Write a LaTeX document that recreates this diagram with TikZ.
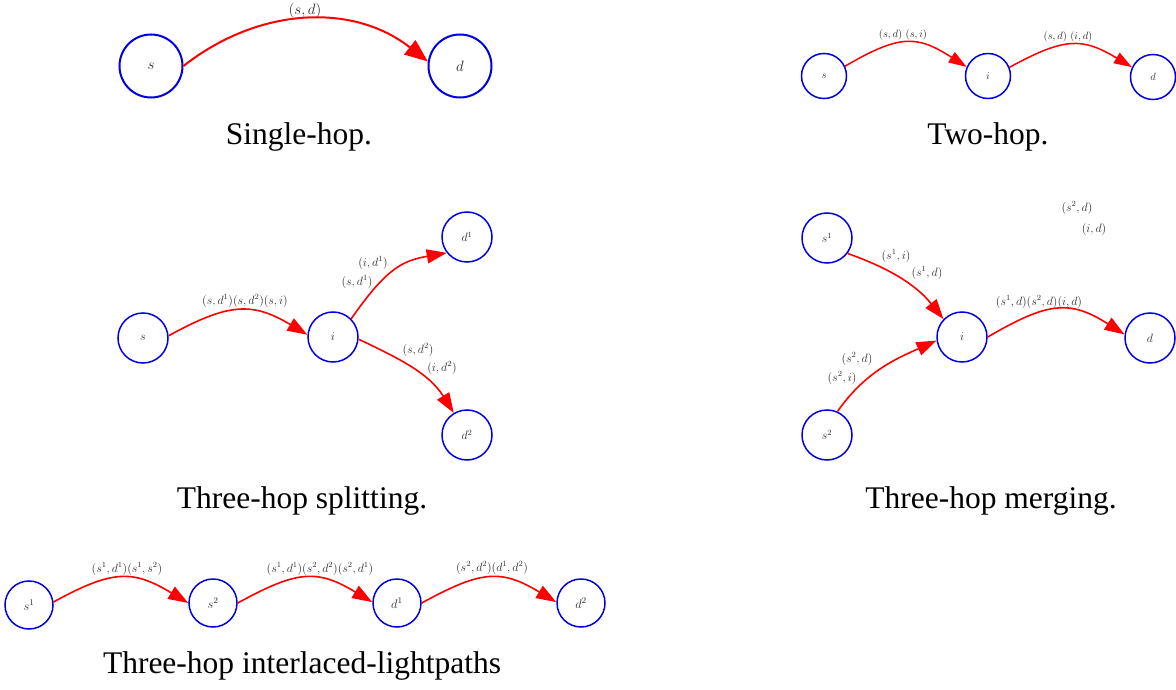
\documentclass[tikz,border=0pt]{standalone}
\usepackage{fix-cm}
\usepackage{fontspec}
\newfontfamily\capfont{Liberation Serif}
\usetikzlibrary{arrows.meta}
\definecolor{ndblue}{RGB}{0,0,225}
\definecolor{labgray}{RGB}{45,45,45}
\begin{document}
\begin{tikzpicture}[x=1pt,y=-1pt,
  nd/.style={circle, draw=ndblue, line width=1.5pt, inner sep=0pt, text=labgray},
  ndA/.style={nd, minimum size=63pt, line width=2pt, font=\fontsize{15}{18}\selectfont},
  ndB/.style={nd, minimum size=45pt, font=\fontsize{10.5}{12}\selectfont},
  ndC/.style={nd, minimum size=50pt, font=\fontsize{12}{14}\selectfont},
  ndD/.style={nd, minimum size=48pt, font=\fontsize{12.5}{14}\selectfont},
  lab/.style={text=labgray, inner sep=0pt},
  labA/.style={lab, font=\fontsize{15}{18}\selectfont},
  labB/.style={lab, font=\fontsize{10.5}{12}\selectfont},
  labC/.style={lab, font=\fontsize{12}{14}\selectfont},
  edgeA/.style={draw=red, line width=2pt, -{Triangle[length=23pt,width=18pt]}},
  edgeB/.style={draw=red, line width=1.5pt, -{Triangle[length=18pt,width=12pt]}},
  edgeC/.style={draw=red, line width=1.6pt, -{Triangle[length=20pt,width=14pt]}},
  captxt/.style={anchor=base, inner sep=0pt, font=\capfont\fontsize{31.5}{36}\selectfont}
]
\useasboundingbox (0,0) rectangle (1176,690);

% ---- Single-hop
\node[ndA] (As) at (151,66) {$s$};
\node[ndA] (Ad) at (460,66) {$d$};
\draw[edgeA] (As.east) .. controls +(75,-59) and +(-75,-59) .. (Ad.172);
\node[labA] (Al) at (305,11) {$(s,d)$};
\node[captxt] (Ac) at (299,145) {Single-hop.};

% ---- Two-hop
\node[ndB] (Bs) at (824,76) {$s$};
\node[ndB] (Bi) at (988,76) {$i$};
\node[ndB] (Bd) at (1153,77) {$d$};
\draw[edgeB] (Bs.25) .. controls +(55,-32) and +(-50,-32) .. (Bi.157);
\draw[edgeB] (Bi.22) .. controls +(55,-30) and +(-50,-30) .. (Bd.155);
\node[labB] (Bl1) at (903,35) {$(s,d)$ $(s,i)$};
\node[labB] (Bl2) at (1068,37) {$(s,d)$ $(i,d)$};
\node[captxt] (Bc) at (988,145) {Two-hop.};

% ---- Three-hop splitting
\node[ndC] (Cs) at (143,338) {$s$};
\node[ndC] (Ci) at (333,337) {$i$};
\node[ndC] (Cd1) at (467,237) {$d^1$};
\node[ndC] (Cd2) at (467,435) {$d^2$};
\draw[edgeC] (Cs.5) .. controls +(60,-33) and +(-55,-33) .. (Ci.175);
\draw[edgeC] (Ci.45) .. controls +(35,-50) and +(-45,8) .. (Cd1.218);
\draw[edgeC] (Ci.355) .. controls +(40,19) and +(-25,-40) .. (Cd2.121);
\node[labC] (Cl1) at (245,301) {$(s,d^1)(s,d^2)(s,i)$};
\node[labC] (Cl2) at (373,263) {$(i,d^1)$};
\node[labC] (Cl3) at (357,282) {$(s,d^1)$};
\node[labC] (Cl4) at (418,350) {$(s,d^2)$};
\node[labC] (Cl5) at (442,368) {$(i,d^2)$};
\node[captxt] (Cc) at (302,508) {Three-hop splitting.};

% ---- Three-hop merging
\node[ndC] (Ds1) at (827,238) {$s^1$};
\node[ndC] (Di) at (962,337) {$i$};
\node[ndC] (Dd) at (1150,338) {$d$};
\node[ndC] (Ds2) at (827,435) {$s^2$};
\draw[edgeC] (Ds1.323) .. controls +(40,14) and +(-28,-35) .. (Di.136);
\draw[edgeC] (Ds2.66) .. controls +(28,-40) and +(-40,18) .. (Di.188);
\draw[edgeC] (Di.east) .. controls +(60,-35) and +(-55,-35) .. (Dd.172);
\node[labC] (Dl1) at (1039,302) {$(s^1,d)(s^2,d)(i,d)$};
\node[labC] (Dl2) at (896,256) {$(s^1,i)$};
\node[labC] (Dl3) at (927,273) {$(s^1,d)$};
\node[labC] (Dl4) at (857,359) {$(s^2,d)$};
\node[labC] (Dl5) at (842,378) {$(s^2,i)$};
\node[labC] (Dl6) at (1077,208) {$(s^2,d)$};
\node[labC] (Dl7) at (1094,229) {$(i,d)$};
\node[captxt] (Dc) at (991,508) {Three-hop merging.};

% ---- Three-hop interlaced-lightpaths
\node[ndD] (Es1) at (29,605) {$s^1$};
\node[ndD] (Es2) at (213,603) {$s^2$};
\node[ndD] (Ed1) at (397,603) {$d^1$};
\node[ndD] (Ed2) at (581,603) {$d^2$};
\draw[edgeC] (Es1.7) .. controls +(60,-33) and +(-55,-33) .. (Es2.180);
\draw[edgeC] (Es2.east) .. controls +(60,-33) and +(-55,-33) .. (Ed1.178);
\draw[edgeC] (Ed1.east) .. controls +(60,-33) and +(-55,-33) .. (Ed2.178);
\node[labC] (El1) at (127,569) {$(s^1,d^1)(s^1,s^2)$};
\node[labC] (El2) at (320,569) {$(s^1,d^1)(s^2,d^2)(s^2,d^1)$};
\node[labC] (El3) at (492,568) {$(s^2,d^2)(d^1,d^2)$};
\node[captxt] (Ec) at (302,673) {Three-hop interlaced-lightpaths};
\end{tikzpicture}
\end{document}
